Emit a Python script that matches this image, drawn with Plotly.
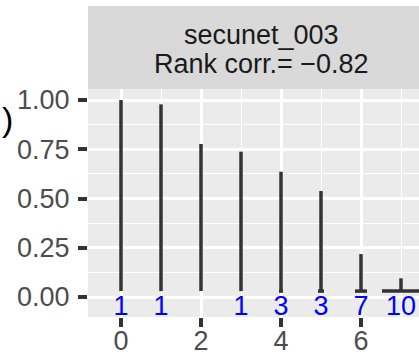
import plotly.graph_objects as go

# data
positions = [0, 1, 2, 3, 4, 5, 6, 7]
values = [1.00, 0.978, 0.777, 0.738, 0.636, 0.538, 0.218, 0.095]
base = 0.03
spread = [0.0, 0.0, 0.0, 0.0, 0.1, 0.15, 0.3, 0.95]
counts = ["1", "1", "", "1", "3", "3", "7", "10"]
label_y = -0.056
strip_title = "secunet_003"
strip_sub = "Rank corr.= \u22120.82"
y_ticks = [0, 0.25, 0.5, 0.75, 1.0]
y_labels = ["0.00", "0.25", "0.50", "0.75", "1.00"]
x_ticks = [0, 2, 4, 6]

FS = 27

fig = go.Figure()

vx, vy = [], []
for p, v in zip(positions, values):
    vx += [p, p, None]
    vy += [base, v, None]
fig.add_trace(go.Scatter(x=vx, y=vy, mode="lines",
                         line=dict(color="#333333", width=3.5), hoverinfo="skip"))

hx, hy = [], []
for p, s in zip(positions, spread):
    if s > 0:
        hx += [p - s / 2, p + s / 2, None]
        hy += [base, base, None]
fig.add_trace(go.Scatter(x=hx, y=hy, mode="lines",
                         line=dict(color="#333333", width=3.5), hoverinfo="skip"))

fig.add_trace(go.Scatter(x=positions, y=[label_y] * len(positions), mode="text",
                         text=counts, textposition="middle center",
                         textfont=dict(color="#0000FF", size=FS, family="Liberation Sans"),
                         hoverinfo="skip"))

W, H = 419, 354
L, R, T, B = 88, 0, 89, 37
fig.update_layout(
    width=W, height=H,
    margin=dict(l=L, r=R, t=T, b=B),
    paper_bgcolor="white", plot_bgcolor="#EBEBEB",
    showlegend=False,
    font=dict(family="Liberation Sans", size=FS, color="#4D4D4D"),
)
fig.update_xaxes(
    range=[-0.825, 7.45], tickvals=x_ticks, ticktext=[str(t) for t in x_ticks],
    showgrid=True, gridcolor="white", gridwidth=2.5, zeroline=False,
    ticks="outside", ticklen=9, tickwidth=3.5, tickcolor="#333333",
    tickfont=dict(size=FS, color="#4D4D4D"), automargin=False,
    ticklabelstandoff=-9,
    minor=dict(tickvals=[1, 3, 5, 7], showgrid=True, gridcolor="white", gridwidth=1.2),
    showline=False,
)
fig.update_yaxes(
    range=[-0.1015, 1.056], tickvals=y_ticks, ticktext=y_labels,
    showgrid=True, gridcolor="white", gridwidth=2.5, zeroline=False,
    ticks="outside", ticklen=9, tickwidth=3.5, tickcolor="#333333",
    tickfont=dict(size=FS, color="#4D4D4D"), automargin=False,
    ticklabelstandoff=3,
    minor=dict(tickvals=[0.125, 0.375, 0.625, 0.875], showgrid=True, gridcolor="white", gridwidth=1.2),
    showline=False,
)

ph = H - T - B
pw = W - L - R
fig.add_shape(type="rect", xref="paper", yref="paper",
              x0=0, x1=1.2, y0=1, y1=1 + (89 - 6) / ph,
              fillcolor="#D9D9D9", line=dict(width=0), layer="below")
fig.add_annotation(x=3.5, xref="x", y=1 + (89 - 35) / ph, yref="paper",
                   text=strip_title, showarrow=False, yanchor="middle",
                   font=dict(size=FS, color="#1A1A1A"))
fig.add_annotation(x=3.5, xref="x", y=1 + (89 - 64) / ph, yref="paper",
                   text=strip_sub, showarrow=False, yanchor="middle",
                   font=dict(size=FS, color="#1A1A1A"))
fig.add_annotation(x=(7 - L) / pw, xref="paper", y=(317 - 119) / ph, yref="paper",
                   text=")", showarrow=False, xanchor="center", yanchor="middle",
                   font=dict(size=34, color="black"))

fig.write_html("out.html")
